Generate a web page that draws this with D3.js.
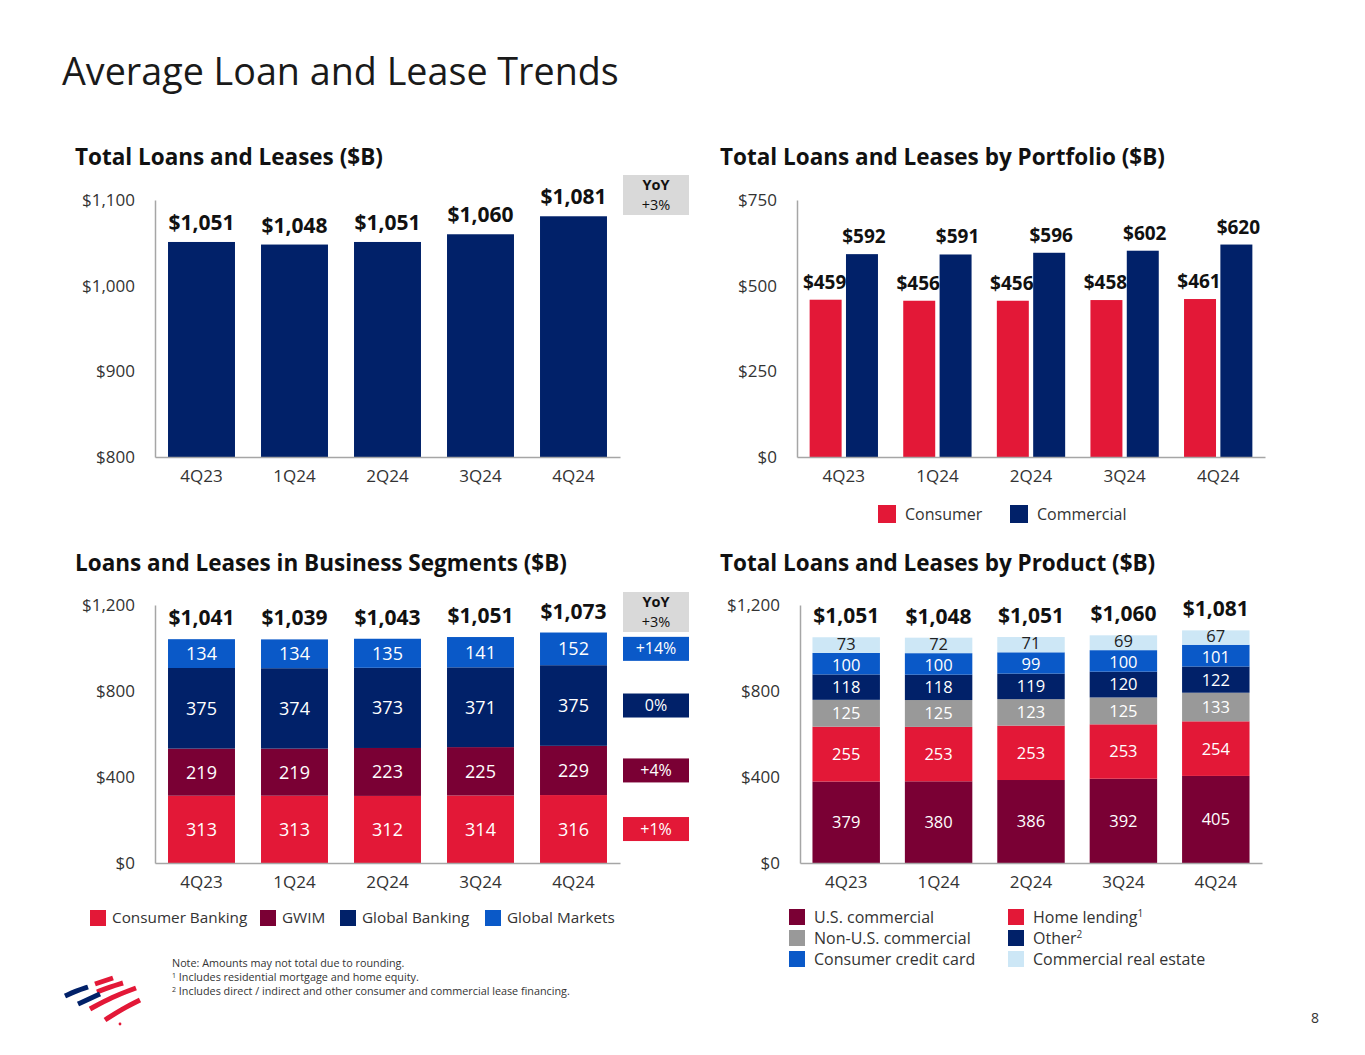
<!DOCTYPE html>
<html>
<head>
<meta charset="utf-8" />
<title>Average Loan and Lease Trends</title>
<style>
  body { margin: 0; background: #fff; }
  svg text { font-family: "Open Sans", "Noto Sans", sans-serif; }
</style>
</head>
<body>
<svg width="1365" height="1055"></svg>
<script src="https://cdn.jsdelivr.net/npm/d3@7"></script>
<script>
// ---- data ----
var quarters = ['4Q23', '1Q24', '2Q24', '3Q24', '4Q24'];

var totalLoans = [1051, 1048, 1051, 1060, 1081];
var totalTicks = [800, 900, 1000, 1100];

var consumer = [459, 456, 456, 458, 461];
var commercial = [592, 591, 596, 602, 620];
var portfolioTicks = [0, 250, 500, 750];

var consumerBanking = [313, 313, 312, 314, 316];
var gwim = [219, 219, 223, 225, 229];
var globalBanking = [375, 374, 373, 371, 375];
var globalMarkets = [134, 134, 135, 141, 152];
var segmentTotals = [1041, 1039, 1043, 1051, 1073];
var segmentYoY = ['+1%', '+4%', '0%', '+14%'];

var usCommercial = [379, 380, 386, 392, 405];
var homeLending = [255, 253, 253, 253, 254];
var nonUsCommercial = [125, 125, 123, 125, 133];
var otherLoans = [118, 118, 119, 120, 122];
var creditCard = [100, 100, 99, 100, 101];
var commercialRealEstate = [73, 72, 71, 69, 67];
var productTotals = [1051, 1048, 1051, 1060, 1081];
var stackTicks = [0, 400, 800, 1200];

// ---- colours ----
var NAVY = '#012169', RED = '#e31837', MAROON = '#7a0034',
    BLUE = '#0a59c8', GRAY = '#999999', LIGHT = '#cde7f6';

var svg = d3.select('svg');
var money = function (v) { return '$' + d3.format(',')(v); };

svg.append('text').attr('x', 62).attr('y', 85)
    .attr('font-size', 37.7).attr('fill', '#1a1a1a')
    .text('Average Loan and Lease Trends');

function title(x, y, t) {
    svg.append('text').attr('x', x).attr('y', y)
        .attr('font-size', 22.5).attr('font-weight', 'bold').attr('fill', '#111')
        .text(t);
}

// axes: labels from d3 axes, plain grey lines for the domain
function axes(g, x, y, ticks, baseY) {
    var ya = g.append('g').attr('transform', 'translate(' + x.range()[0] + ',0)')
        .call(d3.axisLeft(y).tickValues(ticks).tickFormat(money).tickSize(0).tickPadding(20));
    var xa = g.append('g').attr('transform', 'translate(0,' + baseY + ')')
        .call(d3.axisBottom(x).tickSize(0).tickPadding(13));
    [ya, xa].forEach(function (a) {
        a.select('.domain').attr('stroke', '#a6a6a6').attr('stroke-width', 1.5);
        a.selectAll('text').attr('font-size', 17).attr('fill', '#333')
            .attr('font-family', '"Open Sans", sans-serif');
    });
}

function box(x, y, w, h, fill, lines, color) {
    svg.append('rect').attr('x', x).attr('y', y).attr('width', w).attr('height', h).attr('fill', fill);
    var fs = lines.length > 1 ? 14.5 : 16;
    lines.forEach(function (l, i) {
        svg.append('text').attr('x', x + w / 2)
            .attr('y', y + h / 2 + (i - (lines.length - 1) / 2) * 20)
            .attr('dy', '0.35em').attr('text-anchor', 'middle')
            .attr('font-size', fs).attr('font-weight', l.bold ? 'bold' : 'normal')
            .attr('fill', color).text(l.t);
    });
}

function legend(items, size, fs, gap) {
    items.forEach(function (it) {
        svg.append('rect').attr('x', it.x).attr('y', it.y - size / 2)
            .attr('width', size).attr('height', size).attr('fill', it.c);
        var t = svg.append('text').attr('x', it.x + size + gap).attr('y', it.y)
            .attr('dy', '0.35em').attr('font-size', fs).attr('fill', '#333').text(it.label);
        if (it.sup) {
            t.append('tspan').attr('font-size', 10).attr('dy', '-0.6em').text(it.sup);
        }
    });
}

// ---- chart 1: total loans ----
(function () {
    title(75, 165, 'Total Loans and Leases ($B)');
    var g = svg.append('g');
    var x = d3.scaleBand().domain(quarters).range([155, 620]).paddingInner(0.28).paddingOuter(0.14);
    var y = d3.scaleLinear().domain([800, 1100]).range([457, 200]);
    g.selectAll('rect').data(totalLoans).enter().append('rect')
        .attr('x', function (d, i) { return x(quarters[i]); })
        .attr('width', x.bandwidth())
        .attr('y', function (d) { return y(d); })
        .attr('height', function (d) { return y(800) - y(d); })
        .attr('fill', NAVY);
    g.selectAll('text.v').data(totalLoans).enter().append('text')
        .attr('x', function (d, i) { return x(quarters[i]) + x.bandwidth() / 2; })
        .attr('y', function (d) { return y(d) - 12; })
        .attr('text-anchor', 'middle').attr('font-size', 21).attr('font-weight', 'bold')
        .attr('fill', '#111').text(money);
    axes(g, x, y, totalTicks, 457);
    box(623, 175, 66, 40, '#d9d9d9', [{ t: 'YoY', bold: true }, { t: '+3%' }], '#111');
})();

// ---- chart 2: by portfolio ----
(function () {
    title(720, 165, 'Total Loans and Leases by Portfolio ($B)');
    var g = svg.append('g');
    var x = d3.scaleBand().domain(quarters).range([797, 1265]).paddingInner(0.27).paddingOuter(0.135);
    var x1 = d3.scaleBand().domain(['Consumer', 'Commercial']).range([0, x.bandwidth()]).paddingInner(0.12);
    var y = d3.scaleLinear().domain([0, 750]).range([457, 200]);
    var series = [{ k: 'Consumer', v: consumer, c: RED }, { k: 'Commercial', v: commercial, c: NAVY }];
    series.forEach(function (s) {
        g.selectAll('rect.' + s.k).data(s.v).enter().append('rect')
            .attr('x', function (d, i) { return x(quarters[i]) + x1(s.k); })
            .attr('width', x1.bandwidth())
            .attr('y', function (d) { return y(d); })
            .attr('height', function (d) { return y(0) - y(d); })
            .attr('fill', s.c);
        g.selectAll('text.' + s.k).data(s.v).enter().append('text')
            .attr('x', function (d, i) { return x(quarters[i]) + x1(s.k) + x1.bandwidth() / 2 + (s.k === 'Consumer' ? -1 : 2); })
            .attr('y', function (d) { return y(d) - 11; })
            .attr('text-anchor', 'middle').attr('font-size', 19).attr('font-weight', 'bold')
            .attr('fill', '#111').text(money);
    });
    axes(g, x, y, portfolioTicks, 457);
    legend([
        { x: 878, y: 514, c: RED, label: 'Consumer' },
        { x: 1010, y: 514, c: NAVY, label: 'Commercial' }
    ], 18, 16, 9);
})();

// stacked bars helper
function stacked(g, x, y, layers, totals, fs) {
    var rows = quarters.map(function (q, i) {
        var r = { q: q };
        layers.forEach(function (l) { r[l.k] = l.v[i]; });
        return r;
    });
    var stack = d3.stack().keys(layers.map(function (l) { return l.k; }))(rows);
    stack.forEach(function (s, li) {
        var l = layers[li];
        var sg = g.append('g');
        sg.selectAll('rect').data(s).enter().append('rect')
            .attr('x', function (d) { return x(d.data.q); })
            .attr('width', x.bandwidth())
            .attr('y', function (d) { return y(d[1]); })
            .attr('height', function (d) { return y(d[0]) - y(d[1]); })
            .attr('fill', l.c);
        sg.selectAll('text').data(s).enter().append('text')
            .attr('x', function (d) { return x(d.data.q) + x.bandwidth() / 2; })
            .attr('y', function (d) { return (y(d[0]) + y(d[1])) / 2 + (l.dy || 0); })
            .attr('dy', '0.36em').attr('text-anchor', 'middle').attr('font-size', fs)
            .attr('fill', l.tc || '#fff').text(function (d) { return d.data[l.k]; });
    });
    var top = stack[stack.length - 1];
    g.selectAll('text.tot').data(top).enter().append('text')
        .attr('x', function (d) { return x(d.data.q) + x.bandwidth() / 2; })
        .attr('y', function (d) { return y(d[1]) - 14; })
        .attr('text-anchor', 'middle').attr('font-size', 21).attr('font-weight', 'bold')
        .attr('fill', '#111').text(function (d, i) { return money(totals[i]); });
    return stack;
}

// ---- chart 3: business segments ----
(function () {
    title(75, 571, 'Loans and Leases in Business Segments ($B)');
    var g = svg.append('g');
    var x = d3.scaleBand().domain(quarters).range([155, 620]).paddingInner(0.28).paddingOuter(0.14);
    var y = d3.scaleLinear().domain([0, 1200]).range([863, 605]);
    var layers = [
        { k: 'Consumer Banking', v: consumerBanking, c: RED },
        { k: 'GWIM', v: gwim, c: MAROON },
        { k: 'Global Banking', v: globalBanking, c: NAVY },
        { k: 'Global Markets', v: globalMarkets, c: BLUE }
    ];
    var stack = stacked(g, x, y, layers, segmentTotals, 18);
    axes(g, x, y, stackTicks, 863);
    box(623, 592, 66, 40, '#d9d9d9', [{ t: 'YoY', bold: true }, { t: '+3%' }], '#111');
    // YoY change boxes sit beside the 4Q24 segments
    stack.forEach(function (s, i) {
        var d = s[s.length - 1];
        var cy = (y(d[0]) + y(d[1])) / 2;
        box(623, cy - 12, 66, 24, layers[i].c, [{ t: segmentYoY[i] }], '#fff');
    });
    legend([
        { x: 90, y: 918, c: RED, label: 'Consumer Banking' },
        { x: 260, y: 918, c: MAROON, label: 'GWIM' },
        { x: 340, y: 918, c: NAVY, label: 'Global Banking' },
        { x: 485, y: 918, c: BLUE, label: 'Global Markets' }
    ], 16, 15.3, 6);
})();

// ---- chart 4: by product ----
(function () {
    title(720, 571, 'Total Loans and Leases by Product ($B)');
    var g = svg.append('g');
    var x = d3.scaleBand().domain(quarters).range([800, 1262]).paddingInner(0.27).paddingOuter(0.135);
    var y = d3.scaleLinear().domain([0, 1200]).range([863, 605]);
    var layers = [
        { k: 'U.S. commercial', v: usCommercial, c: MAROON },
        { k: 'Home lending', v: homeLending, c: RED },
        { k: 'Non-U.S. commercial', v: nonUsCommercial, c: GRAY },
        { k: 'Other', v: otherLoans, c: NAVY },
        { k: 'Consumer credit card', v: creditCard, c: BLUE, dy: 1 },
        { k: 'Commercial real estate', v: commercialRealEstate, c: LIGHT, tc: '#222', dy: -1.5 }
    ];
    stacked(g, x, y, layers, productTotals, 16.5);
    axes(g, x, y, stackTicks, 863);
    legend([
        { x: 789, y: 917, c: MAROON, label: 'U.S. commercial' },
        { x: 789, y: 938, c: GRAY, label: 'Non-U.S. commercial' },
        { x: 789, y: 959, c: BLUE, label: 'Consumer credit card' },
        { x: 1008, y: 917, c: RED, label: 'Home lending', sup: '1' },
        { x: 1008, y: 938, c: NAVY, label: 'Other', sup: '2' },
        { x: 1008, y: 959, c: LIGHT, label: 'Commercial real estate' }
    ], 16, 16, 9);
})();

// ---- footnotes ----
var notes = svg.append('g').attr('font-size', 10.8).attr('fill', '#333');
notes.append('text').attr('x', 172).attr('y', 967).text('Note: Amounts may not total due to rounding.');
var n1 = notes.append('text').attr('x', 172).attr('y', 981);
n1.append('tspan').attr('font-size', 7).attr('dy', '-3').text('1');
n1.append('tspan').attr('dy', '3').text(' Includes residential mortgage and home equity.');
var n2 = notes.append('text').attr('x', 172).attr('y', 995);
n2.append('tspan').attr('font-size', 7).attr('dy', '-3').text('2');
n2.append('tspan').attr('dy', '3').text(' Includes direct / indirect and other consumer and commercial lease financing.');

// ---- logo ----
var logo = svg.append('g').attr('stroke-linecap', 'butt').attr('fill', 'none').attr('stroke-width', 5);
var curve = d3.line().curve(d3.curveBasis);
[[[95, 984], [104, 981], [113, 978]],
 [[97, 992], [110, 987], [123, 983]],
 [[90, 1009], [112, 997], [136, 988]],
 [[105, 1020], [122, 1009], [140, 1000]]]
    .forEach(function (p) { logo.append('path').attr('d', curve(p)).attr('stroke', RED); });
[[[65, 996], [76, 991], [88, 987]],
 [[78, 1004], [89, 999], [100, 994]]]
    .forEach(function (p) { logo.append('path').attr('d', curve(p)).attr('stroke', NAVY); });
svg.append('circle').attr('cx', 120).attr('cy', 1024).attr('r', 1.4).attr('fill', RED);

svg.append('text').attr('x', 1315).attr('y', 1023).attr('text-anchor', 'middle')
    .attr('font-size', 14).attr('fill', '#333').text('8');
</script>
</body>
</html>
